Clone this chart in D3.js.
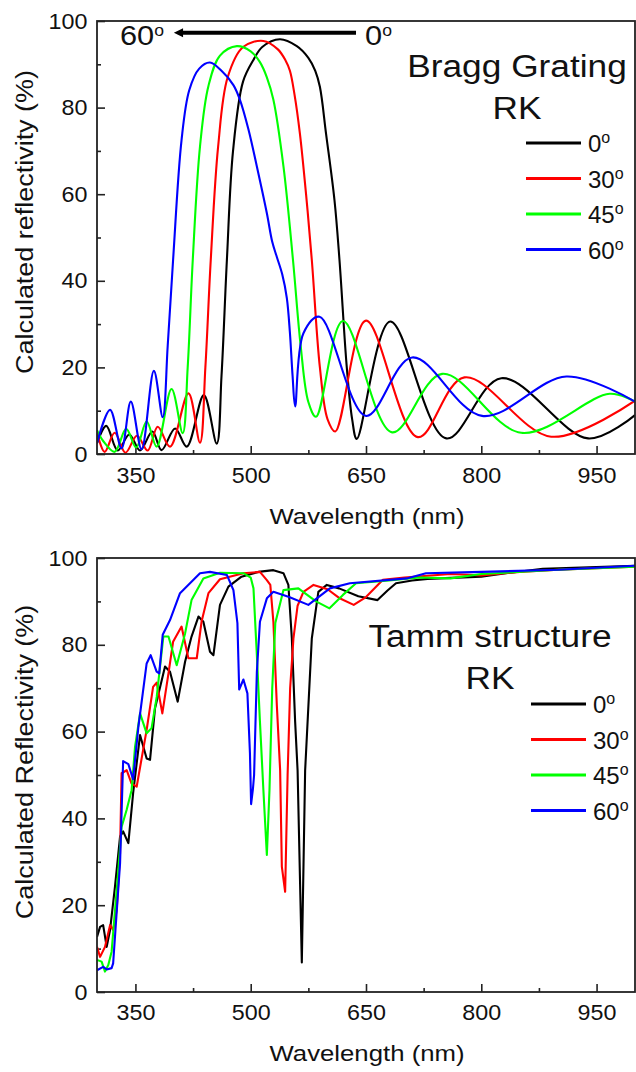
<!DOCTYPE html>
<html><head><meta charset="utf-8">
<script src="https://cdn.jsdelivr.net/npm/d3@7"></script>
<style>
body{margin:0;background:#fff}
svg{display:block}
text{font-family:"Liberation Sans",Arial,sans-serif;fill:#111}
</style>
</head><body>
<svg id="chart" width="636" height="1072"></svg>
<script>
// ---------- data ----------
const xTicks = [350, 500, 650, 800, 950];
const xMinorTicks = [425, 575, 725, 875];
const yTicks = [0, 20, 40, 60, 80, 100];
const yMinorTicks = [10, 30, 50, 70, 90];
const angles = ["0", "30", "45", "60"];

// Bragg grating, [wavelength nm, reflectivity %]
const bragg0 = [[300,2.5],[312,6.5],[327,0.8],[342,4.5],[356,0.8],[372,5.2],[384,0.9],[401.6,5.9],[416.8,1.7],[439,13.6],[455.8,2.4],[462,18],[469,44.8],[477,70],[490,86],[503.5,91],[515,94],[538,95.8],[560,94.2],[575,91.5],[584,88.5],[590,84.8],[598,74],[609,58.6],[615.5,44.8],[625,20],[632,8],[638,3.5],[681.5,30.6],[754.5,3.6],[826,17.5],[939,3.6],[1000,9]];
const bragg30 = [[300,5],[310,0.5],[323,4.9],[337,0.3],[352,4.2],[366,0.8],[379,6.3],[395,1.7],[419,14],[434,2.6],[441,20],[448,44.8],[457.6,71],[470,87],[490,94],[516.5,95.4],[535,93.5],[545,91],[551,88.5],[557,83],[564,74],[572,60],[579.5,44.8],[590,20],[600,8],[610,5.2],[650,30.8],[717.5,3.9],[778,17.7],[891,4],[1000,12.3]];
const bragg45 = [[300,5.5],[308,3],[323,0.5],[338,5.8],[351,1.5],[364.6,7.5],[377.6,1.7],[397,15],[411.5,4.8],[418,20],[424.6,44.8],[434,71],[445,85],[460,92],[482,94.2],[500,93],[512,90.5],[521,87],[529.5,81.8],[542.6,66.4],[555,44.8],[565,25],[575,12],[585,8.6],[620,30.7],[684,5],[749,18.5],[852,4.9],[967,13.9],[1000,12.1]];
const bragg60 = [[300,2.5],[317,10.2],[332,1.3],[344,12.1],[358,1.1],[374,19.2],[385.5,8.5],[392,25],[399,44.8],[410,72.5],[420,84],[433,89],[447,90.4],[462,88.5],[477.5,85.2],[486,81.8],[497,75],[508,66.4],[521,55.6],[528,49],[534,45.5],[541,41.5],[547,36],[551,28],[554.5,18],[557.8,11],[568.6,27.9],[589.5,31.7],[650,8.8],[710,22.3],[801,8.8],[910.7,17.9],[1000,12.1]];

// Tamm structure, [wavelength nm, reflectivity %]
const tamm0 = [[300,12.7],[304,15],[308,15.4],[312.6,10.4],[317,14.3],[323.4,24.3],[330,35.8],[334,37],[340.8,34.3],[347,45.8],[356,59.2],[364.6,53.8],[369,53.5],[375.5,65.4],[388.5,75],[395,73.8],[405,66.9],[414.6,76.1],[423,81.9],[432,86.5],[438.4,85.3],[447,78.4],[451.5,77.6],[460,89.2],[471,93.4],[488,95.7],[510,96.8],[529.5,97.2],[542.6,96.5],[549,93.8],[553.5,81.5],[557.8,62.3],[561,51],[566.5,6.8],[570.8,51],[579.5,81.5],[588,92.2],[599,93.8],[615,93],[640,91.2],[665,90.3],[678,92.5],[689,94.2],[710,94.8],[730,95.2],[800,95.7],[832,96.5],[880,97.5],[1000,98.2]];
const tamm30 = [[300,10.4],[304,8.1],[310.4,10.4],[317,15.4],[321,14.3],[325.6,18.9],[330,32],[332,50.4],[338.6,51.1],[345,48],[351.6,47.3],[364.6,60.4],[373,70.3],[377.7,71.3],[385,64.2],[393,73.4],[399,80.7],[410,84.2],[418.9,76.9],[429.8,76.9],[436,85.3],[445,91.9],[460,95.1],[490.5,96.5],[512,96.8],[521,94.9],[525.5,93.8],[529.5,85.3],[534,66],[538.3,51],[540.5,28.9],[544.8,23.1],[548,50],[551.3,70],[555.6,81.5],[561,89],[568.6,92.2],[581.7,93.8],[600,92.8],[615,90.8],[634,89.2],[650,91],[672,95],[700,95.5],[760,96.3],[800,96],[850,96.8],[900,97.3],[1000,98]];
const tamm45 = [[300,7.4],[306,7],[310.4,4.7],[314.7,6.2],[319,9.3],[327.7,28],[332,38],[338.6,42],[345,46.5],[349.5,56.5],[356,64.2],[364.6,59.6],[371,60.8],[377.7,68],[386.3,81.9],[393,81.9],[403.7,75.3],[414.6,82.6],[423,90.3],[438.4,95.3],[460,96.6],[490.5,96.5],[500,95.5],[503.6,93],[508,77.6],[512,62.3],[516.5,46.5],[521,31.6],[524.4,46.5],[528,70],[532,85],[542.6,92.6],[562,93],[585,90],[602.5,88.4],[620,91.5],[637,94.2],[680,94.8],[720,95.5],[760,95.3],[800,96.3],[900,97.3],[1000,98]];
const tamm60 = [[300,5],[308,5.8],[312.6,5.2],[319,5.5],[321,6.6],[330,29.6],[334,53.2],[340.8,52.5],[347,49],[353.8,61],[364.6,75.7],[369.8,77.6],[377.6,73.8],[381,73.4],[385.5,82.3],[395,85.7],[408,91.9],[434,96.5],[447,96.8],[469,96.1],[477.5,92.6],[482.7,85],[485,69.7],[490.5,72],[495.7,68.8],[499,55],[500.5,43.3],[503,47],[504.4,50],[508,73.8],[512,85.3],[521,90.7],[529.5,92.2],[550,91],[575,89.2],[603,93],[629,94.2],[703,95.3],[728,96.5],[800,96.8],[900,97.3],[1000,98.2]];

const braggSeries = [bragg0, bragg30, bragg45, bragg60];
const tammSeries = [tamm0, tamm30, tamm45, tamm60];

// ---------- style ----------
const colors = ["#000000", "#ff0000", "#00ff00", "#0000ff"];
const svg = d3.select("#chart");

function label(g, x, y, str, size, anchor, sx, rot) {
  return g.append("text")
    .attr("transform", `translate(${x},${y})` + (rot ? ` rotate(${rot})` : "") + ` scale(${sx},1)`)
    .attr("text-anchor", anchor)
    .attr("font-size", size)
    .text(str);
}
function degLabel(g, x, y, num, size, oSize, oDy, sx) {
  const t = g.append("text")
    .attr("transform", `translate(${x},${y}) scale(${sx},1)`)
    .attr("font-size", size);
  t.append("tspan").text(num);
  t.append("tspan").attr("font-size", oSize).attr("dy", oDy).text("o");
  return t;
}

function panel(cfg) {
  const g = svg.append("g");
  const x = d3.scaleLinear().domain([300, 1000]).range([97, 635]);
  const y = d3.scaleLinear().domain([0, 100]).range([cfg.yBottom, cfg.yTop]);
  const id = "clip" + cfg.name;
  svg.append("clipPath").attr("id", id).append("rect")
    .attr("x", x(300)).attr("y", y(100)).attr("width", x(1000) - x(300)).attr("height", y(0) - y(100));

  // minor ticks
  g.append("g").attr("transform", `translate(0,${y(0)})`)
    .call(d3.axisBottom(x).tickValues(xMinorTicks).tickSize(-4).tickFormat(""))
    .call(a => a.select(".domain").remove());
  g.append("g").attr("transform", `translate(${x(300)},0)`)
    .call(d3.axisLeft(y).tickValues(yMinorTicks).tickSize(-4).tickFormat(""))
    .call(a => a.select(".domain").remove());
  // major ticks
  const xa = g.append("g").attr("transform", `translate(0,${y(0)})`)
    .call(d3.axisBottom(x).tickValues(xTicks).tickSize(-8).tickPadding(cfg.xPad).tickFormat(d3.format("d")))
    .call(a => a.select(".domain").remove());
  const ya = g.append("g").attr("transform", `translate(${x(300)},0)`)
    .call(d3.axisLeft(y).tickValues(yTicks).tickSize(-8).tickPadding(9).tickFormat(d3.format("d")))
    .call(a => a.select(".domain").remove());
  [xa, ya].forEach(a => {
    a.selectAll("text").attr("font-size", 22).attr("fill", "#111")
      .attr("font-family", '"Liberation Sans",Arial,sans-serif')
      .attr("transform", "scale(1.06,1)");
  });
  g.selectAll("line").attr("stroke", "#222").attr("stroke-width", 1.6);

  // curves
  const line = d3.line().x(d => x(d[0])).y(d => y(d[1])).curve(cfg.curve);
  const cg = g.append("g").attr("clip-path", `url(#${id})`);
  cfg.series.forEach((s, i) => {
    cg.append("path").attr("d", line(s)).attr("fill", "none")
      .attr("stroke", colors[i]).attr("stroke-width", 2.1).attr("stroke-linejoin", "round");
  });

  // frame
  g.append("rect").attr("x", x(300)).attr("y", y(100))
    .attr("width", x(1000) - x(300)).attr("height", y(0) - y(100))
    .attr("fill", "none").attr("stroke", "#222").attr("stroke-width", 1.8);

  // axis titles
  label(g, 367, cfg.xTitleY, "Wavelength (nm)", 23, "middle", 1.12);
  label(g, 33, cfg.yTitleMid, cfg.yTitle, 24.5, "middle", 1.1, -90);

  // title
  label(g, cfg.titleX, cfg.titleY, cfg.title, 31.5, "middle", 1.12);
  label(g, cfg.titleX, cfg.titleY + 42, "RK", 31.5, "middle", 1.12);

  // legend
  angles.forEach((a, i) => {
    const ly = cfg.legY + i * 35.5;
    g.append("line").attr("x1", cfg.legX).attr("x2", cfg.legX + 55)
      .attr("y1", ly).attr("y2", ly).attr("stroke", colors[i]).attr("stroke-width", 3);
    degLabel(g, cfg.legX + 62, ly + 9, a, 24, 16, -9, 1);
  });
  return {g, x, y};
}

const braggPanel = panel({
  name: "bragg", yBottom: 454, yTop: 21, xPad: 13, series: braggSeries,
  curve: d3.curveCatmullRom.alpha(0.5), xTitleY: 524, yTitleMid: 222,
  yTitle: "Calculated reflectivity (%)", title: "Bragg Grating",
  titleX: 517, titleY: 77, legX: 526, legY: 143
});
panel({
  name: "tamm", yBottom: 992, yTop: 558, xPad: 12.5, series: tammSeries,
  curve: d3.curveLinear, xTitleY: 1061, yTitleMid: 762,
  yTitle: "Calculated Reflectivity (%)", title: "Tamm structure",
  titleX: 490, titleY: 647, legX: 531, legY: 704
});

// arrow annotation in top panel (from 0 deg towards 60 deg)
const ag = braggPanel.g.append("g");
const bx = braggPanel.x, by = braggPanel.y;
const arrowY = by(97.3);
ag.append("line").attr("x1", bx(637)).attr("x2", bx(408))
  .attr("y1", arrowY).attr("y2", arrowY).attr("stroke", "#000").attr("stroke-width", 4);
ag.append("path")
  .attr("d", `M${bx(400)},${arrowY} L${bx(412)},${arrowY - 4.5} L${bx(412)},${arrowY + 4.5} Z`)
  .attr("fill", "#000");
degLabel(ag, 120, 45, "60", 28, 16, -9, 1.1);
degLabel(ag, 365, 45, "0", 28, 16, -9, 1.1);
</script>
</body></html>
